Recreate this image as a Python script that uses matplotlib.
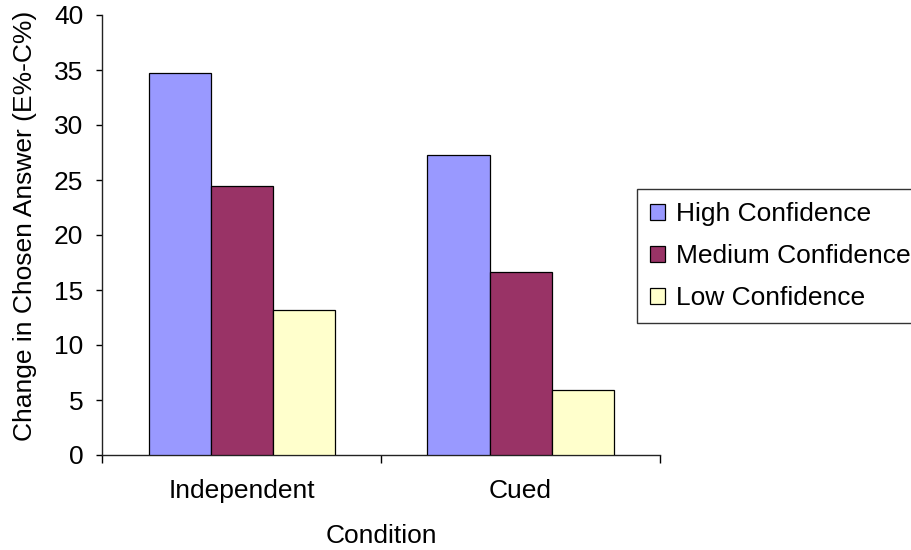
import matplotlib
matplotlib.use("Agg")
import matplotlib.pyplot as plt
import numpy as np

plt.rcParams['font.family'] = ['Liberation Sans', 'DejaVu Sans']

categories = ["Independent", "Cued"]
series_names = ["High Confidence", "Medium Confidence", "Low Confidence"]
high = [34.7, 27.3]
medium = [24.5, 16.6]
low = [13.2, 5.9]
colors = ["#9999FF", "#993366", "#FFFFCC"]

FS = 19
W, H = 911, 550
fig = plt.figure(figsize=(W / 100, H / 100), dpi=100)
ax = fig.add_axes([102 / W, 1 - 455 / H, (660 - 102) / W, (455 - 15) / H])

x = np.arange(len(categories)) + 0.5
bw = 1 / 4.5
for i, (vals, name, c) in enumerate(zip([high, medium, low], series_names, colors)):
    ax.bar(x + (i - 1) * bw, vals, width=bw, color=c, edgecolor="black",
           linewidth=0.9, label=name, zorder=3)

ax.set_xlim(0, 2)
ax.set_ylim(0, 40)
ax.set_yticks(np.arange(0, 41, 5))
ax.set_xticks([0, 1, 2])
ax.set_xticklabels([])
ax.set_xticks(x, minor=True)
ax.set_xticklabels(categories, minor=True)
ax.tick_params(axis="x", which="minor", length=0, pad=17, labelsize=FS)
ax.tick_params(axis="x", which="major", length=5.5, width=1, direction="out")
ax.tick_params(axis="y", length=4.5, width=1, direction="out", labelsize=FS, pad=9)
for s in ["top", "right"]:
    ax.spines[s].set_visible(False)
for s in ["left", "bottom"]:
    ax.spines[s].set_linewidth(1)
    ax.spines[s].set_color("#222222")

ax.set_ylabel("Change in Chosen Answer (E%-C%)", fontsize=FS)
ax.yaxis.set_label_coords((37 - 102) / 558, (455 - 226) / 440)
ax.set_xlabel("Condition", fontsize=FS)
ax.xaxis.set_label_coords(0.5, (455 - 524) / 440)

leg = ax.legend(loc="upper left", bbox_to_anchor=(637 / W, 1 - 189 / H),
                bbox_transform=fig.transFigure, frameon=True, fancybox=False,
                fontsize=FS, handlelength=0.55, handleheight=0.55,
                handletextpad=0.42, labelspacing=0.68, borderpad=0.5,
                borderaxespad=0)
leg.get_frame().set_edgecolor("black")
leg.get_frame().set_linewidth(1)

fig.savefig("out.png", dpi=100)
